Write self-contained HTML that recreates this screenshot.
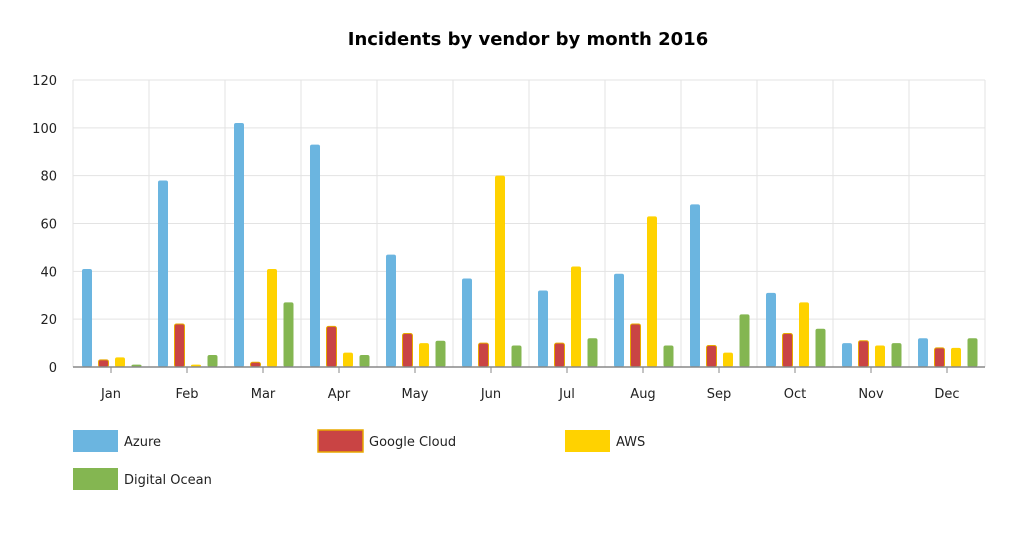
<!DOCTYPE html>
<html><head><meta charset="utf-8"><style>
body{margin:0;background:#fff;width:1024px;height:532px;overflow:hidden;font-family:"DejaVu Sans","Liberation Sans",sans-serif}
</style></head><body>
<svg width="1024" height="532" id="c" font-family="DejaVu Sans, Liberation Sans, sans-serif">
<text x="528" y="45" text-anchor="middle" font-size="18" font-weight="bold" fill="#000">Incidents by vendor by month 2016</text>
</svg>
<script>
const months=["Jan","Feb","Mar","Apr","May","Jun","Jul","Aug","Sep","Oct","Nov","Dec"];
const seriesNames=["Azure","Google Cloud","AWS","Digital Ocean"];
const azure=[41,78,102,93,47,37,32,39,68,31,10,12];
const google=[3,18,2,17,14,10,10,18,9,14,11,8];
const aws=[4,1,41,6,10,80,42,63,6,27,9,8];
const digitalOcean=[1,5,27,5,11,9,12,9,22,16,10,12];
const yTicks=[0,20,40,60,80,100,120];
const colors=["#6bb5e0","#c94444","#ffd200","#84b651"];
const strokes=["none","#e8a800","none","none"];
const svg=document.getElementById('c');
const NS="http://www.w3.org/2000/svg";
const L=73,R=985,T=80,B=367,yMax=120;
const cw=(R-L)/months.length;
const y=v=>B-(v/yMax)*(B-T);
const x=(i,s)=>L+i*cw+14+s*16.5;
function mk(t,a,p){const e=document.createElementNS(NS,t);for(const k in a)e.setAttribute(k,a[k]);(p||svg).appendChild(e);return e;}
yTicks.forEach(v=>{
 const g=mk('line',{x1:L,x2:R,y1:y(v),y2:y(v),stroke:'#e3e3e3'});
 
 
 const t=mk('text',{x:L-16,y:y(v)+5,'text-anchor':'end','font-size':13,fill:'#222'});
 t.textContent=v;
 
 
});
for(let i=0;i<=months.length;i++){
 const g=mk('line',{x1:L+i*cw,x2:L+i*cw,y1:T,y2:B,stroke:'#e3e3e3'});
 
 
}
const data=[azure,google,aws,digitalOcean];
months.forEach((m,i)=>{
 data.forEach((arr,s)=>{
  const v=arr[i];
  const r=mk('rect',{x:x(i,s)-5,y:y(v),width:10,height:B-y(v),rx:2,fill:colors[s],stroke:strokes[s],'stroke-width':1});
  
  
 });
 const cx=L+(i+0.5)*cw;
 const tk=mk('line',{x1:cx,x2:cx,y1:B,y2:B+6,stroke:'#888'});
 
 
 const t=mk('text',{x:cx,y:B+31,'text-anchor':'middle','font-size':13,fill:'#222'});
 t.textContent=m;
 
 
});
const ax=mk('line',{x1:L,x2:R,y1:B,y2:B,stroke:'#888','stroke-width':1.5});


const lp=[[73,430],[318,430],[565,430],[73,468]];
seriesNames.forEach((n,s)=>{
 const g=mk('g',{});
 
 
 const r=mk('rect',{x:lp[s][0],y:lp[s][1],width:45,height:22,fill:colors[s],stroke:strokes[s],'stroke-width':1.5},g);
 
 
 const t=mk('text',{x:lp[s][0]+51,y:lp[s][1]+16,'font-size':13,fill:'#222'},g);
 t.textContent=n;
 
 
});
</script>
</body></html>
